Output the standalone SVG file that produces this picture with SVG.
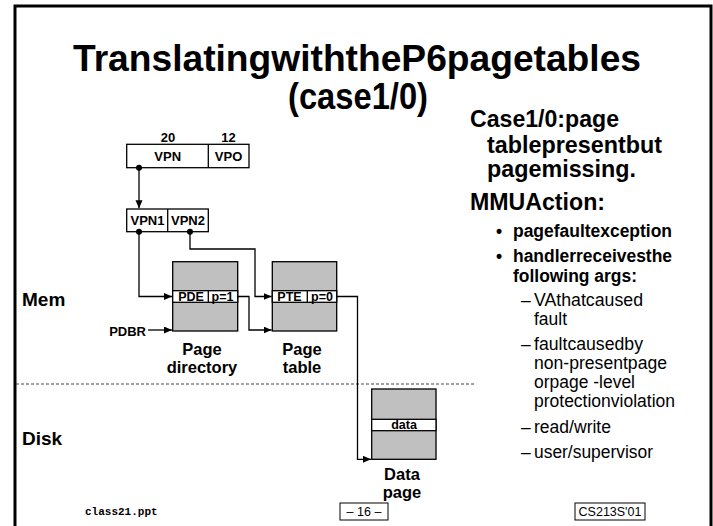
<svg xmlns="http://www.w3.org/2000/svg" width="713" height="526" viewBox="0 0 713 526">
<defs>
<style>
.b{font-family:"Liberation Sans",Arial,sans-serif;font-weight:bold;fill:#000}
.r{font-family:"Liberation Sans",Arial,sans-serif;fill:#000}
.box{fill:#fff;stroke:#000;stroke-width:1.3}
.tbl{fill:#c0c0c0;stroke:#000;stroke-width:1.3}
.ln{fill:none;stroke:#000;stroke-width:1.3}
.lbl{font-size:16.5px}
</style>
<marker id="ah" markerWidth="9" markerHeight="8" refX="8" refY="3.5" orient="auto" markerUnits="userSpaceOnUse">
<path d="M0,0 L8,3.5 L0,7 z" fill="#000"/>
</marker>
</defs>
<rect width="713" height="526" fill="#fff"/>
<rect x="15" y="6" width="696" height="560" fill="none" stroke="#000" stroke-width="3"/>

<text class="b" x="357" y="71" font-size="37" text-anchor="middle" textLength="568" lengthAdjust="spacingAndGlyphs">TranslatingwiththeP6pagetables</text>
<text class="b" x="358" y="109" font-size="37" text-anchor="middle" textLength="140" lengthAdjust="spacingAndGlyphs">(case1/0)</text>

<g id="notes">
<text class="b" x="470" y="127" font-size="23" textLength="149" lengthAdjust="spacingAndGlyphs">Case1/0:page</text>
<text class="b" x="487" y="153" font-size="23" textLength="175" lengthAdjust="spacingAndGlyphs">tablepresentbut</text>
<text class="b" x="487" y="177" font-size="23" textLength="149" lengthAdjust="spacingAndGlyphs">pagemissing.</text>
<text class="b" x="470" y="210" font-size="23" textLength="135" lengthAdjust="spacingAndGlyphs">MMUAction:</text>
<text class="b" x="496" y="237" font-size="17.5">•</text>
<text class="b" x="513" y="237" font-size="17.5" textLength="159" lengthAdjust="spacingAndGlyphs">pagefaultexception</text>
<text class="b" x="496" y="262" font-size="17.5">•</text>
<text class="b" x="513" y="262" font-size="17.5" textLength="159" lengthAdjust="spacingAndGlyphs">handlerreceivesthe</text>
<text class="b" x="513" y="282" font-size="17.5" textLength="124" lengthAdjust="spacingAndGlyphs">following args:</text>
<text class="r" x="521" y="306" font-size="17.5">–</text>
<text class="r" x="534" y="306" font-size="17.5" textLength="109" lengthAdjust="spacingAndGlyphs">VAthatcaused</text>
<text class="r" x="534" y="325" font-size="17.5" textLength="33" lengthAdjust="spacingAndGlyphs">fault</text>
<text class="r" x="521" y="350" font-size="17.5">–</text>
<text class="r" x="534" y="350" font-size="17.5" textLength="109" lengthAdjust="spacingAndGlyphs">faultcausedby</text>
<text class="r" x="534" y="369" font-size="17.5" textLength="133" lengthAdjust="spacingAndGlyphs">non-presentpage</text>
<text class="r" x="534" y="388" font-size="17.5" textLength="101" lengthAdjust="spacingAndGlyphs">orpage -level</text>
<text class="r" x="534" y="407" font-size="17.5" textLength="141" lengthAdjust="spacingAndGlyphs">protectionviolation</text>
<text class="r" x="521" y="433" font-size="17.5">–</text>
<text class="r" x="534" y="433" font-size="17.5" textLength="77" lengthAdjust="spacingAndGlyphs">read/write</text>
<text class="r" x="521" y="458" font-size="17.5">–</text>
<text class="r" x="534" y="458" font-size="17.5" textLength="119" lengthAdjust="spacingAndGlyphs">user/supervisor</text>
</g>

<text class="b" x="22" y="306" font-size="19">Mem</text>
<text class="b" x="22" y="445" font-size="19">Disk</text>
<line x1="16" y1="384" x2="475" y2="384" stroke="#444" stroke-width="1" stroke-dasharray="3,2"/>

<g id="va">
<rect class="box" x="126.7" y="144.3" width="122.3" height="23.4"/>
<line class="ln" x1="208.3" y1="144.3" x2="208.3" y2="167.7"/>
<text class="b" x="168" y="142" font-size="13" text-anchor="middle">20</text>
<text class="b" x="228.6" y="142" font-size="13" text-anchor="middle">12</text>
<text class="b" x="167.7" y="160.7" font-size="13" text-anchor="middle">VPN</text>
<text class="b" x="228.6" y="160.7" font-size="13" text-anchor="middle">VPO</text>
</g>

<g id="vpn12">
<rect class="box" x="126.7" y="209" width="81.6" height="22.7"/>
<line class="ln" x1="167.7" y1="209" x2="167.7" y2="231.7"/>
<text class="b" x="147.5" y="224.5" font-size="13" text-anchor="middle">VPN1</text>
<text class="b" x="188" y="224.5" font-size="13" text-anchor="middle">VPN2</text>
</g>

<g id="pagedir">
<rect class="tbl" x="172.7" y="261.7" width="65" height="69.3"/>
<rect class="box" x="172.7" y="290.7" width="65" height="11.6"/>
<line class="ln" x1="208.3" y1="290.7" x2="208.3" y2="302.3"/>
<text class="b" x="191" y="301" font-size="12.5" text-anchor="middle">PDE</text>
<text class="b" x="222.5" y="301" font-size="12.5" text-anchor="middle">p=1</text>
<text class="b lbl" x="202" y="355" text-anchor="middle">Page</text>
<text class="b lbl" x="202" y="373" text-anchor="middle">directory</text>
</g>

<g id="pagetbl">
<rect class="tbl" x="272.3" y="261.7" width="64.4" height="69.3"/>
<rect class="box" x="272.3" y="290.7" width="64.4" height="11.6"/>
<line class="ln" x1="307.3" y1="290.7" x2="307.3" y2="302.3"/>
<text class="b" x="289.5" y="301" font-size="12.5" text-anchor="middle">PTE</text>
<text class="b" x="322" y="301" font-size="12.5" text-anchor="middle">p=0</text>
<text class="b lbl" x="302" y="355" text-anchor="middle">Page</text>
<text class="b lbl" x="302" y="373" text-anchor="middle">table</text>
</g>

<g id="datapage">
<rect class="tbl" x="371.7" y="389" width="64.3" height="70.3"/>
<rect class="box" x="371.7" y="419.3" width="64.3" height="11.4"/>
<text class="b" x="404" y="428.7" font-size="12.5" text-anchor="middle">data</text>
<text class="b lbl" x="402" y="480" text-anchor="middle">Data</text>
<text class="b lbl" x="402" y="498" text-anchor="middle">page</text>
</g>

<g id="pdbr">
<text class="b" x="146" y="336" font-size="13" text-anchor="end">PDBR</text>
</g>

<g id="connectors">
<circle cx="139" cy="167.7" r="3"/>
<circle cx="139" cy="231.7" r="3"/>
<circle cx="190" cy="231.7" r="3"/>
<polyline class="ln" points="139,167.7 139,208.3" marker-end="url(#ah)"/>
<polyline class="ln" points="139,231.7 139,296.5 172,296.5" marker-end="url(#ah)"/>
<polyline class="ln" points="190,231.7 190,249 255,249 255,296.5 271.6,296.5" marker-end="url(#ah)"/>
<polyline class="ln" points="237.7,296.5 249,296.5 249,330 271.6,330" marker-end="url(#ah)"/>
<polyline class="ln" points="148,330 172,330" marker-end="url(#ah)"/>
<polyline class="ln" points="336.7,296.5 357.5,296.5 357.5,459.3 371,459.3" marker-end="url(#ah)"/>
</g>

<g id="footer">
<text x="85" y="515" font-family="'Liberation Mono','Courier New',monospace" font-weight="bold" font-size="11">class21.ppt</text>
<rect x="340" y="503" width="48" height="17" fill="#fff" stroke="#000" stroke-width="1"/>
<text class="r" x="364" y="516" font-size="12.5" text-anchor="middle">– 16 –</text>
<rect x="575" y="503" width="70" height="17" fill="#fff" stroke="#000" stroke-width="1"/>
<text class="r" x="610" y="516" font-size="12.5" text-anchor="middle">CS213S'01</text>
</g>
</svg>
